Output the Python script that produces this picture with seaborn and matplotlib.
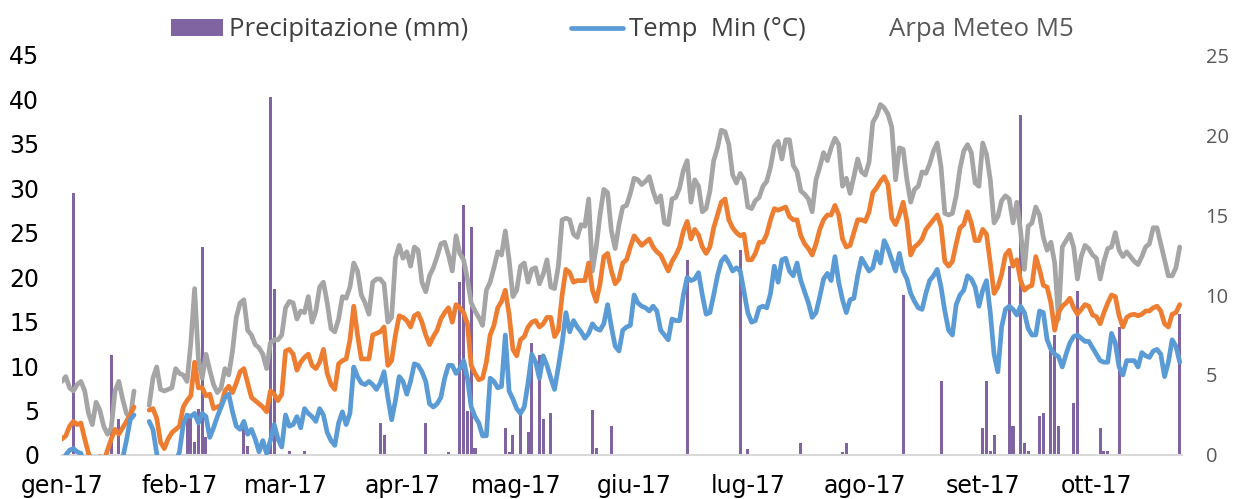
import numpy as np
import pandas as pd
import seaborn as sns
import matplotlib
matplotlib.use("Agg")
import matplotlib.pyplot as plt
from matplotlib.patches import Patch
from matplotlib.lines import Line2D

sns.set_style("white")
plt.rcParams['font.family'] = ['DejaVu Sans']

nan = np.nan

# temperatura massima giornaliera (°C), 1 gen - 23 ott 2017
t_max = [
    4.6, 4.9, 4.2, 4.0, 4.4, 4.6, 4.0, 2.6, 1.9, 3.3,
    2.8, 1.8, 1.3, 1.7, 4.0, 4.6, 3.5, 2.6, 2.3, 4.0,
    nan, nan, nan, 3.1, 4.8, 5.5, 4.1, 4.0, 4.1, 4.2,
    5.4, 5.1, 5.0, 4.6, 7.0, 10.4, 6.0, 4.8, 6.3, 5.3,
    4.4, 3.9, 4.2, 5.4, 5.0, 6.5, 8.6, 9.5, 9.7, 7.8,
    7.5, 6.9, 6.7, 6.3, 5.4, 7.0, 7.2, 7.2, 7.5, 9.2,
    9.6, 9.5, 8.5, 9.0, 8.9, 9.9, 8.3, 9.0, 10.5, 10.8,
    9.5, 7.9, 7.7, 8.5, 9.9, 9.8, 10.5, 12.0, 11.5, 10.0,
    9.5, 8.8, 10.8, 11.0, 11.0, 10.7, 8.3, 8.6, 12.3, 13.1,
    12.3, 12.7, 11.8, 13.0, 12.8, 10.8, 10.2, 11.2, 11.7, 12.4,
    13.2, 13.3, 12.5, 11.5, 13.7, 12.6, 12.2, 11.0, 9.5, 9.0,
    8.6, 8.1, 10.3, 10.8, 11.7, 12.7, 12.5, 14.0, 12.2, 9.9,
    10.3, 11.8, 12.0, 10.8, 11.6, 11.7, 10.7, 11.3, 12.2, 10.5,
    10.4, 11.8, 14.7, 14.8, 14.7, 13.8, 13.6, 14.4, 14.3, 16.0,
    11.5, 13.0, 15.0, 16.6, 16.4, 14.0, 12.9, 14.4, 15.5, 15.6,
    16.35, 17.3, 17.2, 16.9, 17.1, 17.4, 16.5, 15.8, 16.2, 14.5,
    14.4, 16.0, 16.1, 16.7, 17.8, 18.4, 15.8, 17.2, 16.8, 15.2,
    15.4, 16.5, 18.4, 19.2, 20.3, 20.2, 19.4, 17.5, 17.0, 17.6,
    17.2, 15.5, 15.4, 15.9, 16.1, 16.8, 17.1, 18.0, 19.3, 19.6,
    18.5, 19.7, 19.7, 18.1, 17.7, 16.5, 16.3, 16.0, 15.2, 17.2,
    18.0, 18.9, 18.4, 19.2, 19.8, 19.4, 16.8, 17.3, 16.35, 17.4,
    18.5, 17.7, 17.5, 18.3, 20.8, 21.2, 21.9, 21.7, 21.3, 20.5,
    17.2, 19.2, 19.1, 17.2, 15.8, 16.6, 16.8, 17.7, 17.6, 18.2,
    19.0, 19.5, 18.0, 15.1, 15.0, 15.1, 16.2, 17.9, 19.0, 19.4,
    18.9, 17.0, 16.8, 19.5, 18.8, 17.2, 14.5, 14.9, 15.9, 16.2,
    16.0, 14.5, 15.8, 14.0, 11.6, 14.3, 14.5, 15.5, 15.0, 13.6,
    12.8, 13.3, 12.0, 8.5, 13.0, 13.4, 13.8, 13.0, 11.0, 12.4,
    13.1, 12.9, 12.5, 12.3, 11.0, 12.1, 12.9, 13.0, 13.9, 12.8,
    12.4, 12.7, 12.4, 12.1, 11.9, 12.4, 13.0, 13.2, 14.2, 14.2,
    13.2, 12.2, 11.2, 11.2, 11.7, 13.0,
]

# temperatura media giornaliera (°C)
t_med = [
    1.0, 1.2, 1.8, 2.1, 1.9, 2.0, 1.0, 0.1, -0.5, -0.3,
    -0.1, -0.4, 0.3, 1.0, 1.6, 1.3, 1.7, 2.1, 2.5, 3.0,
    nan, nan, nan, 2.8, 2.9, 2.3, 0.8, 0.4, 1.0, 1.4,
    1.6, 1.8, 3.0, 3.4, 3.7, 5.8, 4.2, 4.2, 3.7, 3.8,
    2.9, 3.0, 3.1, 4.0, 4.3, 3.9, 4.5, 5.2, 5.4, 4.5,
    3.6, 3.4, 3.2, 3.0, 2.7, 4.0, 3.8, 3.4, 3.8, 6.5,
    6.6, 6.3, 5.3, 5.8, 6.1, 6.3, 5.6, 5.4, 5.8, 6.6,
    5.1, 4.4, 4.1, 5.7, 5.9, 6.0, 7.2, 9.3, 7.5, 6.0,
    6.0, 6.0, 7.5, 7.6, 7.7, 8.0, 5.6, 5.9, 7.5, 8.7,
    8.6, 8.4, 8.0, 8.7, 8.85, 8.3, 7.5, 6.9, 7.4, 7.8,
    8.5, 8.9, 9.2, 8.3, 9.4, 9.2, 8.9, 8.2, 5.6, 5.1,
    4.7, 4.8, 5.8, 7.5, 8.1, 9.2, 9.6, 10.3, 8.8, 6.6,
    6.2, 7.2, 7.4, 8.0, 8.3, 8.4, 8.0, 8.2, 8.6, 8.6,
    7.4, 7.8, 10.0, 11.6, 11.4, 10.8, 10.9, 10.9, 10.9, 12.0,
    10.3, 9.6, 10.7, 12.4, 12.6, 11.5, 10.7, 11.0, 12.0, 12.2,
    13.0, 13.7, 13.4, 13.1, 13.3, 13.5, 13.0, 12.7, 12.5, 12.0,
    11.5, 12.1, 12.5, 13.0, 14.0, 14.6, 13.5, 14.1, 13.75, 13.0,
    12.6, 13.0, 14.2, 15.0, 15.8, 16.0, 14.7, 14.2, 13.9, 13.7,
    13.8, 12.2, 12.2, 12.6, 13.3, 13.3, 13.8, 14.7, 15.4, 15.3,
    15.4, 15.5, 14.9, 14.7, 14.7, 13.7, 13.2, 12.9, 12.5, 13.2,
    14.1, 14.7, 15.0, 15.0, 15.6, 15.0, 13.5, 13.0, 13.1, 13.9,
    14.7, 14.7, 14.6, 15.2, 16.4, 16.7, 17.1, 17.4, 16.9, 14.8,
    14.4, 15.0, 15.8, 14.6, 12.5, 13.0, 13.2, 13.5, 14.1, 14.4,
    14.7, 15.0, 14.3, 12.1, 11.8, 12.1, 13.2, 14.2, 14.4, 15.2,
    14.5, 13.4, 13.4, 14.1, 13.8, 12.0, 10.1, 10.5, 11.3, 12.5,
    12.8, 11.8, 12.2, 10.9, 10.3, 10.5, 10.6, 12.4, 11.6, 10.6,
    10.5, 9.5, 7.8, 8.9, 9.3, 9.5, 9.8, 9.2, 8.8, 9.1,
    9.4, 9.3, 8.75, 8.65, 8.2, 8.9, 9.5, 10.0, 9.9, 8.7,
    8.0, 8.6, 8.75, 8.8, 8.7, 8.8, 9.0, 9.0, 9.2, 9.3,
    9.0, 8.2, 8.0, 8.8, 8.9, 9.4,
]

# temperatura minima giornaliera (°C)
t_min = [
    -0.5, 0.0, 0.3, 0.4, 0.2, 0.1, -1.0, -2.0, -3.0, -3.0,
    -2.5, -3.0, -2.0, -1.5, -1.0, -0.5, -0.2, 0.9, 2.2, 2.5,
    nan, nan, nan, 2.1, 1.6, 0.1, -1.5, -2.0, -2.0, -1.5,
    -0.5, 0.2, 1.9, 2.5, 2.4, 2.6, 2.0, 2.6, 2.4, 1.1,
    1.7, 2.4, 3.0, 3.6, 3.8, 2.7, 1.8, 1.6, 2.1, 1.3,
    1.6, 1.0, 0.2, 0.9, 0.1, 0.9, 1.9, 1.0, 0.5, 2.5,
    1.8, 1.9, 2.4, 1.7, 2.9, 2.6, 2.4, 2.1, 2.9, 2.5,
    1.4, 0.9, 0.6, 2.0, 2.7, 1.9, 2.6, 5.5, 4.9, 4.5,
    4.4, 4.6, 4.4, 4.1, 4.5, 5.2, 3.6, 2.2, 3.4, 4.9,
    4.6, 3.8, 4.6, 5.7, 5.6, 5.2, 4.6, 3.2, 3.0, 3.2,
    3.6, 4.8, 5.6, 5.6, 5.1, 5.4, 5.9, 4.8, 3.0, 2.4,
    2.0, 1.2, 1.2, 4.8, 4.6, 4.2, 4.3, 7.5, 4.0, 3.5,
    2.9, 2.6, 3.0, 4.5, 6.3, 5.8, 4.8, 6.2, 5.6, 4.8,
    4.1, 5.5, 7.0, 8.9, 7.7, 8.4, 8.0, 7.7, 7.3, 7.6,
    8.2, 7.9, 7.8, 8.2, 9.4, 8.0, 6.8, 6.5, 7.8, 8.0,
    8.1, 10.0, 9.5, 9.3, 9.2, 9.0, 9.3, 9.0, 7.8, 7.5,
    7.2, 8.5, 8.4, 8.4, 10.0, 11.1, 10.9, 11.0, 11.4, 10.0,
    8.8, 8.9, 10.0, 11.2, 12.1, 12.4, 12.0, 11.5, 11.7, 11.5,
    10.2, 8.9, 8.3, 8.4, 9.2, 9.3, 9.2, 10.1, 11.8, 10.8,
    12.2, 12.3, 11.5, 11.2, 12.0, 10.9, 10.2, 9.5, 8.6, 8.9,
    9.9, 11.0, 11.35, 10.9, 12.4, 10.8, 9.7, 8.9, 9.7, 9.8,
    11.2, 12.3, 11.9, 11.5, 11.7, 12.7, 12.0, 13.4, 12.9, 12.2,
    11.5, 12.6, 11.5, 11.0, 10.1, 9.6, 9.2, 9.1, 10.1, 10.9,
    11.2, 11.6, 10.5, 9.0, 7.8, 7.5, 9.4, 10.0, 10.3, 11.2,
    11.0, 10.5, 9.3, 10.3, 10.9, 8.9, 6.3, 5.2, 8.0, 9.1,
    9.3, 9.1, 8.75, 9.3, 8.9, 7.9, 7.5, 7.5, 9.0, 8.9,
    7.2, 6.6, 6.3, 6.15, 5.5, 6.3, 7.0, 7.4, 7.5, 7.3,
    7.1, 7.1, 6.7, 6.3, 5.9, 5.8, 5.8, 7.6, 7.0, 5.5,
    5.0, 5.9, 5.9, 5.9, 5.5, 6.4, 6.2, 6.1, 6.5, 6.6,
    6.3, 4.9, 5.8, 7.2, 6.8, 5.8,
]

# giorni piovosi (giorno dell'anno, 0 = 1 gennaio) e precipitazione (mm)
rain_doy = [3, 13, 15, 33, 34, 35, 36, 37, 38, 48, 49, 55, 56, 60, 64, 84, 85,
            96, 102, 105, 106, 107, 108, 109, 117, 118, 119, 121, 123, 124, 126,
            127, 129, 140, 141, 145, 165, 179, 181, 195, 206, 207, 222, 232, 243,
            244, 245, 246, 250, 251, 253, 254, 255, 258, 259, 261, 262, 263, 267,
            268, 274, 275, 276, 279, 295]
rain_mm = [29.5, 11.2, 4.0, 4.5, 4.5, 1.5, 5.2, 23.4, 2.0, 3.0, 1.0, 40.3, 18.7,
           0.4, 0.4, 3.6, 2.2, 3.6, 0.3, 19.5, 28.1, 5.0, 25.6, 0.8, 3.0, 0.3,
           2.2, 4.7, 2.6, 12.6, 11.2, 4.0, 4.7, 5.1, 0.75, 3.3, 21.9, 23.1, 0.7,
           1.4, 0.3, 1.4, 18.0, 8.3, 3.0, 8.3, 0.4, 2.2, 21.3, 3.3, 38.2, 1.4,
           0.4, 4.4, 4.7, 12.0, 13.5, 3.3, 5.8, 18.4, 3.0, 0.4, 0.4, 14.4, 15.9]

month_labels = ["gen-17", "feb-17", "mar-17", "apr-17", "mag-17",
                "giu-17", "lug-17", "ago-17", "set-17", "ott-17"]

PURPLE = "#8064A2"
BLUE = "#5B9BD5"
ORANGE = "#ED7D31"
GRAY = "#A5A5A5"

days = pd.date_range("2017-01-01", periods=len(t_max), freq="D")
rain = np.zeros(len(days))
rain[rain_doy] = rain_mm

df = pd.DataFrame({"data": days, "tmax": t_max, "tmed": t_med, "tmin": t_min,
                   "pioggia": rain})
# tratti continui: la serie si interrompe dove mancano i dati
df["tratto"] = df["tmax"].isna().cumsum()

fig = plt.figure(figsize=(12.4, 4.99), dpi=100)
ax = fig.add_axes([62 / 1240, 44 / 499, 1120 / 1240, 400 / 499])
ax.bar(df["data"], df["pioggia"], width=0.8, color=PURPLE, linewidth=0)
ax.set_ylim(0, 45)
ax.set_yticks(range(0, 46, 5))

ax2 = ax.twinx()
line_kw = dict(linewidth=3.4, solid_joinstyle="round", solid_capstyle="round",
               units="tratto", estimator=None)
sns.lineplot(data=df, x="data", y="tmax", ax=ax2, color=GRAY, **line_kw)
sns.lineplot(data=df, x="data", y="tmed", ax=ax2, color=ORANGE, **line_kw)
sns.lineplot(data=df, x="data", y="tmin", ax=ax2, color=BLUE, **line_kw)
ax2.set_ylim(0, 25)
ax2.set_yticks(range(0, 26, 5))
ax2.set_ylabel("")

ax.set_xlim(days[0], days[0] + pd.Timedelta(days=295.6))
ax.set_xticks(pd.date_range("2017-01-01", "2017-10-01", freq="MS"))
ax.set_xticklabels(month_labels)
ax.set_xlabel("")

for s in ["left", "right", "top"]:
    ax.spines[s].set_visible(False)
    ax2.spines[s].set_visible(False)
ax2.spines["bottom"].set_visible(False)
ax.spines["bottom"].set_color("#D9D9D9")
ax.spines["bottom"].set_linewidth(1.5)

ax.tick_params(axis="x", length=5, width=1.5, color="#D9D9D9", pad=9,
               labelsize=17, labelcolor="black")
ax.tick_params(axis="y", length=0, pad=16.5, labelsize=17, labelcolor="black")
ax2.tick_params(axis="y", length=0, pad=17, labelsize=14.5, labelcolor="#595959")
for lbl in ax2.get_yticklabels():
    lbl.set_fontfamily("Open Sans")

handles = [Patch(facecolor=PURPLE, edgecolor="none"),
           Line2D([], [], color=BLUE, linewidth=3.4)]
fig.legend(handles, ["Precipitazione (mm)", "Temp  Min (°C)"],
           loc="center left", bbox_to_anchor=(171 / 1240, 1 - 30 / 499),
           ncol=2, frameon=False, prop={"family": "Open Sans", "size": 18.5},
           labelcolor="#404040", handlelength=2.02, handleheight=0.62,
           handletextpad=0.23, columnspacing=4.0, borderpad=0, borderaxespad=0)
fig.text(889 / 1240, 1 - 30 / 499, "Arpa Meteo M5", ha="left", va="center",
         family="Open Sans", size=18.5, color="#595959")

fig.savefig("out.png", dpi=100)
